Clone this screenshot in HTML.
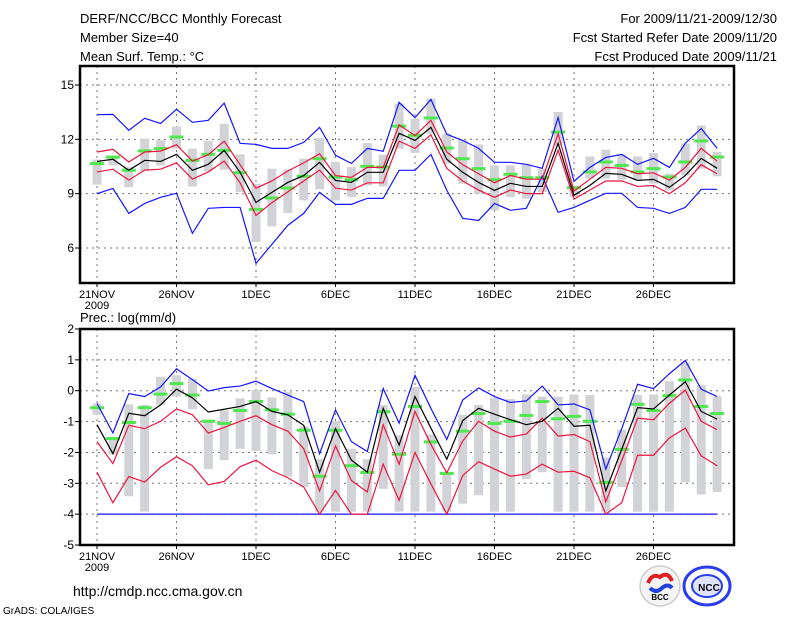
<!DOCTYPE html>
<html><head><meta charset="utf-8"><style>
body{margin:0;background:#fff;width:800px;height:618px;overflow:hidden}
svg{display:block}
text{font-family:"Liberation Sans",sans-serif;fill:#000}
</style></head><body>
<svg id="c" width="800" height="618" xmlns="http://www.w3.org/2000/svg">
<g>
<text x="80" y="23" font-size="13">DERF/NCC/BCC Monthly Forecast</text>
<text x="80" y="42" font-size="13">Member Size=40</text>
<text x="80" y="61" font-size="13">Mean Surf. Temp.: °C</text>
<text x="777" y="23" font-size="13" text-anchor="end">For 2009/11/21-2009/12/30</text>
<text x="777" y="42" font-size="13" text-anchor="end">Fcst Started Refer Date 2009/11/20</text>
<text x="777" y="61" font-size="13" text-anchor="end">Fcst Produced Date 2009/11/21</text>
<text x="80" y="322" font-size="13">Prec.: log(mm/d)</text>
<text x="73" y="596" font-size="14">http://cmdp.ncc.cma.gov.cn</text>
<text x="3" y="614" font-size="10">GrADS: COLA/IGES</text>
</g>
<g>
<circle cx="660" cy="586" r="20" fill="#f4f4f4" stroke="#ccc" stroke-width="1.5"/>
<path d="M648 583 q4 -10 12 -6 q8 -6 12 4" stroke="#e02020" stroke-width="4" fill="none"/>
<path d="M650 588 q6 6 12 0 q6 -5 10 0" stroke="#2040e0" stroke-width="4" fill="none"/>
<text x="660" y="600" font-size="8" font-weight="bold" text-anchor="middle" fill="#333">BCC</text>
</g>
<g>
<ellipse cx="707" cy="586" rx="23" ry="19" fill="none" stroke="#2a3cf0" stroke-width="3"/>
<ellipse cx="707" cy="586" rx="15" ry="11" fill="#dfe3ff" stroke="#2a3cf0" stroke-width="2"/>
<text x="709" y="591" font-size="10" font-weight="bold" text-anchor="middle" fill="#2a3cf0">NCC</text>
</g>
</svg>
<script>
// ---- Temperature panel data (day 0 = 21 Nov 2009) ----
const dateLabels = ["21NOV","26NOV","1DEC","6DEC","11DEC","16DEC","21DEC","26DEC"];
const tTicks = [15,12,9,6];
const pTicks = [2,1,0,-1,-2,-3,-4,-5];
const tBlueHi = [13.36,13.38,12.5,13.16,12.88,13.66,12.94,13.05,14.0,11.78,11.72,11.5,11.5,11.83,12.66,11.12,10.67,11.5,11.34,14.04,13.2,14.2,12.28,11.94,11.5,10.73,10.73,10.62,10.4,13.2,9.68,10.45,11.0,11.17,10.62,10.95,10.45,11.78,12.6,11.5];
const tBlueLo = [9.0,9.29,7.91,8.46,8.8,9.02,6.81,8.19,8.24,8.24,5.15,6.2,7.25,7.91,9.07,8.41,8.41,8.74,8.74,10.29,10.29,11.17,9.18,7.64,7.52,8.46,8.08,8.19,9.96,7.97,8.24,8.63,9.02,9.02,8.24,8.19,7.91,8.24,9.24,9.24];
const tMean = [10.78,10.9,10.29,10.84,10.78,11.17,10.29,10.62,11.39,10.18,8.52,9.07,9.62,10.0,10.73,9.73,9.62,10.18,10.18,12.33,11.94,12.66,10.9,10.18,9.62,9.18,9.57,9.4,9.4,11.78,8.91,9.46,10.12,10.07,9.73,9.79,9.35,10.0,10.95,10.4];
const tRedHi = [11.3,11.45,10.75,11.3,11.35,11.7,10.8,11.15,11.9,10.6,9.3,9.7,10.25,10.7,11.2,10.0,9.9,10.45,10.45,12.8,12.2,13.05,11.3,10.6,10.1,9.6,10.0,9.8,9.8,12.3,9.15,9.8,10.45,10.4,10.1,10.15,9.75,10.45,11.5,10.8];
const tRedLo = [10.2,10.35,9.75,10.3,10.35,10.7,9.8,10.2,10.8,9.6,7.8,8.5,9.1,9.7,10.3,9.3,9.2,9.6,9.6,11.9,11.5,12.25,10.4,9.7,9.2,8.8,9.2,9.0,9.0,11.4,8.7,9.2,9.7,9.7,9.4,9.45,9.0,9.6,10.6,10.1];
const tGreen = [10.66,11.02,10.29,11.36,11.49,12.13,10.84,11.17,11.39,10.16,8.13,8.76,9.31,9.96,10.93,9.92,9.77,10.51,10.47,12.73,12.22,13.18,11.52,10.93,10.38,9.77,10.07,9.88,9.88,12.4,9.33,10.2,10.75,10.56,10.2,10.38,9.92,10.75,11.91,11.02];
const tGrayHi = [10.88,10.97,10.46,12.04,11.95,12.71,11.49,11.91,12.86,11.17,9.55,10.38,10.34,10.93,12.07,10.75,10.47,11.8,11.15,13.97,13.14,14.25,12.31,11.95,11.72,10.56,10.56,10.62,10.38,13.51,9.37,11.06,11.43,11.17,11.06,11.25,10.1,11.76,12.77,11.3];
const tGrayLo = [9.5,10.56,9.36,10.25,10.56,11.49,9.4,10.23,10.32,9.09,6.33,7.19,7.93,8.63,9.24,8.63,8.82,9.46,9.4,11.49,11.25,12.31,10.66,9.55,9.0,8.08,8.82,8.72,9.09,11.67,8.82,9.83,9.83,9.77,9.73,9.55,9.18,10.01,10.38,9.96];
// ---- Precipitation panel data ----
const pBlueHi = [-0.41,-1.37,-0.09,-0.19,0.125,0.71,0.36,-0.01,0.10,0.15,0.31,0.07,-0.14,-0.35,-2.04,-0.62,-1.65,-1.97,0.07,-1.05,0.50,-0.57,-1.58,-0.30,0.09,-0.19,-0.38,-0.33,0.15,-0.46,-0.43,-0.62,-2.54,-1.23,0.21,0.07,0.55,0.98,0.05,-0.19];
const pBlueLo = [-4,-4,-4,-4,-4,-4,-4,-4,-4,-4,-4,-4,-4,-4,-4,-4,-4,-4,-4,-4,-4,-4,-4,-4,-4,-4,-4,-4,-4,-4,-4,-4,-4,-4,-4,-4,-4,-4,-4,-4];
const pMean = [-1.10,-2.04,-0.73,-0.81,-0.46,0.05,-0.23,-0.69,-0.60,-0.51,-0.35,-0.67,-0.78,-1.12,-2.64,-1.23,-2.25,-2.64,-0.57,-1.76,-0.19,-1.21,-2.22,-0.97,-0.57,-0.76,-0.94,-1.10,-0.99,-0.57,-1.15,-1.12,-3.25,-1.90,-0.55,-0.59,-0.14,0.29,-0.67,-0.92];
const pRedHi = [-1.65,-2.36,-1.12,-1.23,-0.99,-0.59,-0.78,-1.37,-1.19,-0.99,-0.81,-1.10,-1.31,-1.88,-3.25,-1.79,-2.91,-3.28,-1.10,-2.38,-0.67,-1.74,-2.66,-1.63,-0.99,-1.31,-1.50,-1.40,-0.89,-1.47,-1.42,-1.65,-3.60,-2.27,-0.89,-0.94,-0.41,0.02,-0.99,-1.26];
const pRedLo = [-2.64,-3.63,-2.78,-2.96,-2.48,-2.14,-2.43,-3.05,-2.94,-2.46,-2.25,-2.59,-2.82,-3.12,-4,-3.23,-4,-4,-2.38,-3.55,-2.00,-3.02,-4,-2.75,-2.30,-2.54,-2.77,-2.70,-2.38,-2.64,-2.61,-2.82,-4,-3.63,-2.09,-2.09,-1.53,-1.21,-2.11,-2.43];
const pGreen = [-0.55,-1.55,-1.03,-0.55,-0.11,0.23,-0.14,-0.99,-1.06,-0.64,-0.35,-0.62,-0.76,-1.28,-2.77,-1.28,-2.43,-2.65,-0.68,-2.06,-0.51,-1.66,-2.68,-1.31,-0.74,-1.06,-0.99,-0.80,-0.35,-0.91,-0.83,-0.99,-2.97,-1.90,-0.44,-0.64,-0.16,0.35,-0.51,-0.74];
const pGrayHi = [-0.41,-1.53,-0.44,-0.46,0.45,0.50,0.39,-0.94,-0.64,-0.25,0.02,-0.22,-0.03,-1.15,-2.22,-0.99,-1.88,-2.22,-0.46,-1.44,0.125,-1.42,-2.70,-0.78,-0.46,-0.23,-0.27,-0.12,-0.19,-0.19,-0.12,-0.14,-2.17,-1.26,-0.14,-0.12,0.31,0.92,0.18,-0.19];
const pGrayLo = [-0.78,-2.06,-3.42,-3.92,-0.46,-0.19,-0.60,-2.54,-2.25,-1.88,-1.95,-2.06,-2.78,-3.12,-3.92,-3.92,-3.92,-3.92,-3.18,-3.92,-3.92,-3.92,-3.92,-3.66,-3.39,-3.92,-3.92,-2.86,-2.64,-3.92,-3.92,-3.92,-3.92,-3.12,-3.92,-3.92,-3.92,-2.96,-3.36,-3.28];

const NS = "http://www.w3.org/2000/svg";
const svg = document.getElementById('c');
const X0 = 80, X1 = 734;
const xDay = d => 97 + d * 15.9;
const yT = v => 85 + (15 - v) * 18.11;
const yP = v => 329 + (2 - v) * 30.86;
function mk(tag, attrs, parent) {
  const e = document.createElementNS(NS, tag);
  for (const k in attrs) e.setAttribute(k, attrs[k]);
  (parent || svg).appendChild(e);
  return e;
}
function panel(name, top, bot, ticks, yf, gHi, gLo, green, bHi, bLo, rHi, rLo, mean) {
  const g = mk('g', {});
  
  
  // grid
  ticks.forEach(t => {
    const y = yf(t);
    if (y > top + 1 && y < bot - 1) {
      const l = mk('line', {x1: X0, x2: X1, y1: y, y2: y, stroke: '#777', 'stroke-dasharray': '2,4', 'stroke-width': 1}, g);
      
      
    }
    const tk = mk('line', {x1: X0 - 5, x2: X0, y1: y, y2: y, stroke: '#000'}, g);
    
    
    const tx = mk('text', {x: X0 - 6, y: y + 4, 'font-size': 12, 'text-anchor': 'end'}, g);
    
    
    tx.textContent = t;
  });
  dateLabels.forEach((lab, i) => {
    const x = xDay(i * 5);
    const l = mk('line', {x1: x, x2: x, y1: top, y2: bot, stroke: '#777', 'stroke-dasharray': '2,4'}, g);
    
    
    const tk = mk('line', {x1: x, x2: x, y1: bot, y2: bot + 4, stroke: '#000'}, g);
    
    
    const tx = mk('text', {x: x, y: bot + 15, 'font-size': 11, 'text-anchor': 'middle'}, g);
    
    
    tx.textContent = lab;
  });
  const yr = mk('text', {x: xDay(0), y: bot + 26, 'font-size': 11, 'text-anchor': 'middle'}, g);
  
  
  yr.textContent = '2009';
  // gray bars
  gHi.forEach((h, i) => {
    const y1 = yf(h), y2 = yf(gLo[i]);
    const r = mk('rect', {x: xDay(i) - 4.5, y: y1, width: 9, height: Math.max(1, y2 - y1), fill: '#d2d3d7'}, g);
    
    
  });
  // green marks
  green.forEach((v, i) => {
    const r = mk('rect', {x: xDay(i) - 7, y: yf(v) - 1.5, width: 14, height: 3, fill: '#4fe84f'}, g);
    
    
  });
  const line = (arr, col, nm, w) => {
    const p = mk('polyline', {points: arr.map((v, i) => xDay(i) + ',' + yf(v)).join(' '), fill: 'none', stroke: col, 'stroke-width': w || 1.2}, g);
    
    
  };
  line(bHi, '#1515ff', 'upper-bound-line');
  line(bLo, '#1515ff', 'lower-bound-line');
  line(rHi, '#ee1540', 'upper-quartile-line');
  line(rLo, '#ee1540', 'lower-quartile-line');
  line(mean, '#000', 'ensemble-mean-line');
  // frame
  const f = mk('rect', {x: X0, y: top, width: X1 - X0, height: bot - top, fill: 'none', stroke: '#000', 'stroke-width': 2.5}, g);
  
  
}
panel('temperature-panel', 66, 283, tTicks, yT, tGrayHi, tGrayLo, tGreen, tBlueHi, tBlueLo, tRedHi, tRedLo, tMean);
panel('precipitation-panel', 329, 545, pTicks, yP, pGrayHi, pGrayLo, pGreen, pBlueHi, pBlueLo, pRedHi, pRedLo, pMean);
</script>
</body></html>
